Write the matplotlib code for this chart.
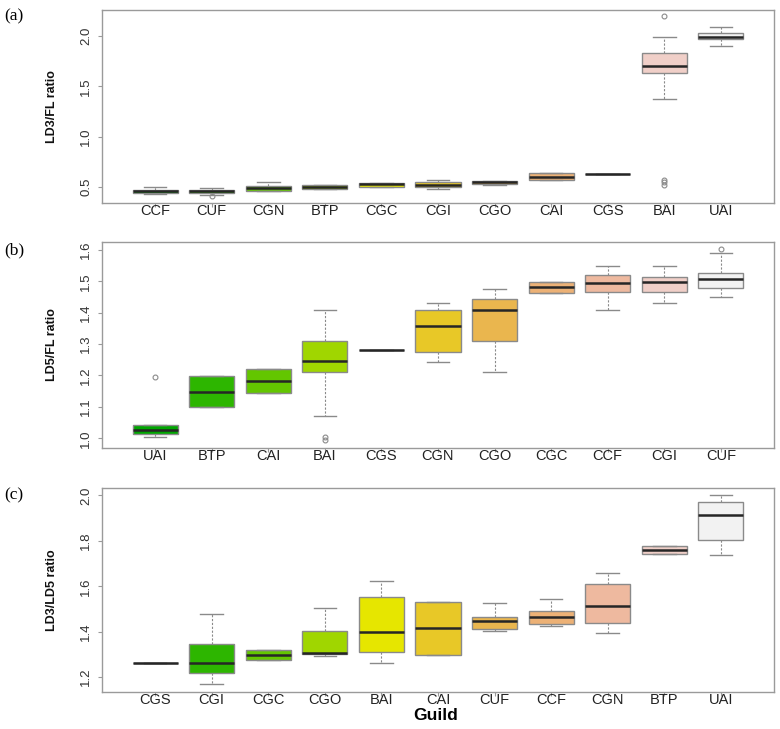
import matplotlib
matplotlib.use("Agg")
import matplotlib.pyplot as plt
from matplotlib import font_manager

# ---------------- data ----------------
palette = ["#00A600", "#2DB600", "#63C600", "#A0D600", "#E6E600", "#E8C827",
           "#EAB64E", "#ECB176", "#EEB99F", "#F0CFC8", "#F2F2F2"]

a_guilds = ["CCF", "CUF", "CGN", "BTP", "CGC", "CGI", "CGO", "CAI", "CGS", "BAI", "UAI"]
a_whislo = [0.430, 0.423, 0.457, 0.480, 0.503, 0.477, 0.520, 0.573, 0.630, 1.370, 1.897]
a_q1     = [0.445, 0.443, 0.463, 0.480, 0.503, 0.497, 0.533, 0.573, 0.630, 1.630, 1.970]
a_med    = [0.460, 0.458, 0.487, 0.497, 0.525, 0.520, 0.547, 0.603, 0.630, 1.700, 1.993]
a_q3     = [0.475, 0.470, 0.510, 0.520, 0.543, 0.550, 0.560, 0.640, 0.630, 1.830, 2.027]
a_whishi = [0.495, 0.487, 0.547, 0.520, 0.543, 0.570, 0.560, 0.640, 0.630, 1.987, 2.090]
a_fliers = [[], [0.412], [], [], [], [], [], [], [], [2.200, 0.567, 0.547, 0.520], []]

b_guilds = ["UAI", "BTP", "CAI", "BAI", "CGS", "CGN", "CGO", "CGC", "CCF", "CGI", "CUF"]
b_whislo = [1.003, 1.099, 1.143, 1.070, 1.280, 1.242, 1.210, 1.463, 1.407, 1.430, 1.450]
b_q1     = [1.013, 1.099, 1.143, 1.210, 1.280, 1.274, 1.309, 1.463, 1.465, 1.466, 1.477]
b_med    = [1.026, 1.148, 1.183, 1.247, 1.280, 1.356, 1.408, 1.481, 1.494, 1.499, 1.508]
b_q3     = [1.042, 1.197, 1.220, 1.309, 1.280, 1.407, 1.443, 1.497, 1.521, 1.513, 1.525]
b_whishi = [1.042, 1.197, 1.220, 1.410, 1.280, 1.430, 1.475, 1.497, 1.548, 1.549, 1.591]
b_fliers = [[1.194], [], [], [1.005, 0.993], [], [], [], [], [], [], [1.603]]

c_guilds = ["CGS", "CGI", "CGC", "CGO", "BAI", "CAI", "CUF", "CCF", "CGN", "BTP", "UAI"]
c_whislo = [1.261, 1.169, 1.274, 1.291, 1.261, 1.299, 1.401, 1.424, 1.392, 1.744, 1.738]
c_q1     = [1.261, 1.218, 1.274, 1.300, 1.311, 1.299, 1.412, 1.433, 1.439, 1.744, 1.803]
c_med    = [1.261, 1.264, 1.295, 1.308, 1.399, 1.417, 1.446, 1.465, 1.514, 1.760, 1.916]
c_q3     = [1.261, 1.345, 1.317, 1.405, 1.551, 1.530, 1.464, 1.492, 1.610, 1.776, 1.971]
c_whishi = [1.261, 1.476, 1.317, 1.505, 1.623, 1.530, 1.527, 1.542, 1.658, 1.776, 2.002]
c_fliers = [[], [], [], [], [], [], [], [], [], [], []]

panels = [
    dict(tag="(a)", ylabel="LD3/FL ratio", guilds=a_guilds, lo=a_whislo, q1=a_q1, med=a_med,
         q3=a_q3, hi=a_whishi, fl=a_fliers, ylim=(0.341, 2.258), yticks=[0.5, 1.0, 1.5, 2.0],
         fmt="{:.1f}", top=10, bottom=203, tagy=16),
    dict(tag="(b)", ylabel="LD5/FL ratio", guilds=b_guilds, lo=b_whislo, q1=b_q1, med=b_med,
         q3=b_q3, hi=b_whishi, fl=b_fliers, ylim=(0.969, 1.625),
         yticks=[1.0, 1.1, 1.2, 1.3, 1.4, 1.5, 1.6], fmt="{:.1f}", top=242, bottom=448, tagy=250),
    dict(tag="(c)", ylabel="LD3/LD5 ratio", guilds=c_guilds, lo=c_whislo, q1=c_q1, med=c_med,
         q3=c_q3, hi=c_whishi, fl=c_fliers, ylim=(1.134, 2.033),
         yticks=[1.2, 1.4, 1.6, 1.8, 2.0], fmt="{:.1f}", top=488, bottom=692, tagy=495),
]

W, H = 780, 729
fig = plt.figure(figsize=(W / 100, H / 100), dpi=100)
sans = ["Liberation Sans", "DejaVu Sans"]
serif = ["Liberation Serif", "DejaVu Serif"]

installed = {f.name for f in font_manager.fontManager.ttflist}
if "Liberation Sans Narrow" in installed:
    ylab_family, ylab_size = ["Liberation Sans Narrow", "DejaVu Sans"], 10.5
elif "DejaVu Sans Condensed" in installed:
    ylab_family, ylab_size = ["DejaVu Sans Condensed", "DejaVu Sans"], 9.5
else:
    ylab_family, ylab_size = ["Liberation Sans", "DejaVu Sans"], 9.0

frame_col = "#9a9a9a"
edge_col = "#8a8a8a"

left_px, right_px = 102, 774
for p in panels:
    ax = fig.add_axes([left_px / W, 1 - p["bottom"] / H,
                       (right_px - left_px) / W, (p["bottom"] - p["top"]) / H])
    stats = []
    for i, g in enumerate(p["guilds"]):
        stats.append(dict(label=g, whislo=p["lo"][i], q1=p["q1"][i], med=p["med"][i],
                          q3=p["q3"][i], whishi=p["hi"][i], fliers=p["fl"][i]))
    pos = list(range(1, len(stats) + 1))
    res = ax.bxp(stats, positions=pos, widths=0.8, patch_artist=True, showfliers=True,
                 boxprops=dict(edgecolor=edge_col, linewidth=1.0),
                 medianprops=dict(color="#262626", linewidth=1.8, solid_capstyle="butt"),
                 whiskerprops=dict(color=edge_col, linewidth=0.8, linestyle=(0, (2, 1.5))),
                 capprops=dict(color=edge_col, linewidth=1.0),
                 capwidths=0.4,
                 flierprops=dict(marker="o", markersize=3.5, markerfacecolor="none",
                                 markeredgecolor="#8a8a8a", markeredgewidth=0.8))
    for patch, col in zip(res["boxes"], palette):
        patch.set_facecolor(col)
    ax.set_xlim(0.06, 11.94)
    ax.set_ylim(*p["ylim"])
    ax.set_xticks(pos)
    ax.set_xticklabels(p["guilds"], fontfamily=sans, fontsize=10.5, color="#222222")
    ax.set_yticks(p["yticks"])
    ax.set_yticklabels([p["fmt"].format(v) for v in p["yticks"]], fontfamily=sans,
                       fontsize=9.5, color="#333333", rotation=90, va="center")
    ax.tick_params(axis="x", length=3, width=0.8, color=frame_col, pad=-2)
    ax.tick_params(axis="y", length=3, width=0.8, color=frame_col, pad=4)
    for s in ax.spines.values():
        s.set_color(frame_col)
        s.set_linewidth(1.0)
    ax.set_ylabel(p["ylabel"], fontfamily=ylab_family, fontweight="bold", fontsize=ylab_size,
                  color="#111111", va="center")
    ax.yaxis.set_label_coords((52 - left_px) / (right_px - left_px), 0.5)
    fig.text(4 / W, 1 - p["tagy"] / H, p["tag"], fontfamily=serif, fontsize=12.5,
             va="center", ha="left")

fig.text(436 / W, 1 - 716 / H, "Guild", fontfamily=sans, fontweight="bold", fontsize=12.5,
         ha="center", va="center")

fig.savefig("out.png", dpi=100)
